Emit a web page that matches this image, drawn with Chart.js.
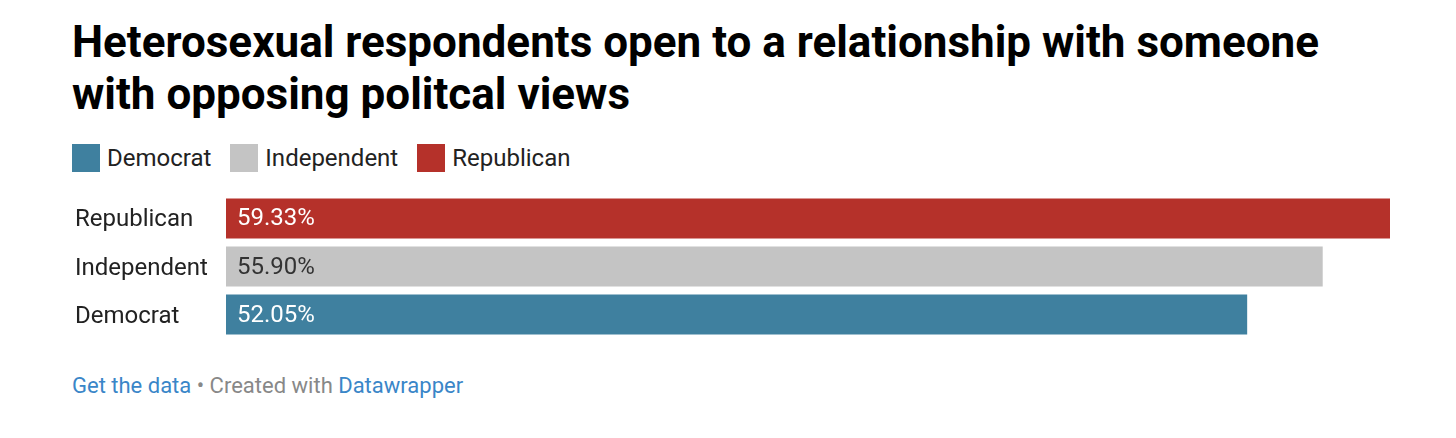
<!DOCTYPE html>
<html>
<head>
<meta charset="utf-8">
<script src="https://cdn.jsdelivr.net/npm/chart.js@4"></script>
<style>
  body { margin: 0; background: #fff; font-family: Roboto, sans-serif; }
  #wrap { position: relative; width: 1456px; height: 438px; }
  h1 { position: absolute; left: 72px; top: 16px; margin: 0; font-size: 44px; line-height: 52px; font-weight: 700; color: #000; width: 1330px; }
  #legend { position: absolute; left: 72px; top: 144px; display: flex; font-size: 24px; color: #222; }
  .item { display: flex; align-items: center; margin-right: 19px; }
  .sw { width: 28px; height: 28px; margin-right: 7px; }
  #foot { position: absolute; left: 72px; top: 373px; font-size: 22px; color: #888; }
  #foot a { color: #3a86c8; text-decoration: none; }
  #chartBox { position: absolute; left: 0; top: 180px; width: 1456px; height: 173px; }
</style>
</head>
<body>
<div id="wrap">
  <h1>Heterosexual respondents open to a relationship with someone with opposing politcal views</h1>
  <div id="legend"></div>
  <div id="chartBox"><canvas id="bars"></canvas></div>
  <div id="foot"><a>Get the data</a> • Created with <a>Datawrapper</a></div>
</div>
<script>
const categories = ["Republican", "Independent", "Democrat"];
const values = [59.33, 55.90, 52.05];
const barColors = ["#b5312a", "#c4c4c4", "#3f809f"];
const labelColors = ["#fff", "#333", "#fff"];

const legendNames = ["Democrat", "Independent", "Republican"];
const legendColors = ["#3f809f", "#c4c4c4", "#b5312a"];

const legend = document.getElementById("legend");
legendNames.forEach((name, i) => {
    const item = document.createElement("div");
    item.className = "item";
    item.innerHTML = `<div class="sw" style="background:${legendColors[i]}"></div><span>${name}</span>`;
    legend.appendChild(item);
});

// value labels inside the bars
const valueLabels = {
    id: "valueLabels",
    afterDatasetsDraw(chart) {
        const ctx = chart.ctx;
        const meta = chart.getDatasetMeta(0);
        ctx.save();
        ctx.font = "24px Roboto";
        ctx.textBaseline = "middle";
        ctx.textAlign = "left";
        meta.data.forEach((bar, i) => {
            ctx.fillStyle = labelColors[i];
            ctx.fillText(values[i].toFixed(2) + "%", bar.base + 11, bar.y + 1);
        });
        ctx.restore();
    }
};

const ctx = document.getElementById("bars").getContext("2d");
const chart = new Chart(ctx, {
    type: "bar",
    data: {
        labels: categories,
        datasets: [{
            data: values,
            backgroundColor: barColors,
            barPercentage: 40 / 48,
            categoryPercentage: 1
        }]
    },
    options: {
        indexAxis: "y",
        responsive: true,
        maintainAspectRatio: false,
        animation: false,
        layout: { padding: { left: 75, right: 66, top: 0, bottom: 0 } },
        plugins: { legend: { display: false }, tooltip: { enabled: false } },
        scales: {
            x: { display: false, min: 0, max: 59.33 },
            y: {
                grid: { display: false },
                border: { display: false },
                afterFit(scale) { scale.width = 151; },
                ticks: {
                    crossAlign: "far",
                    padding: 0,
                    labelOffset: 2,
                    color: "#222",
                    font: { family: "Roboto", size: 24 }
                }
            }
        }
    },
    plugins: [valueLabels]
});
</script>
</body>
</html>
